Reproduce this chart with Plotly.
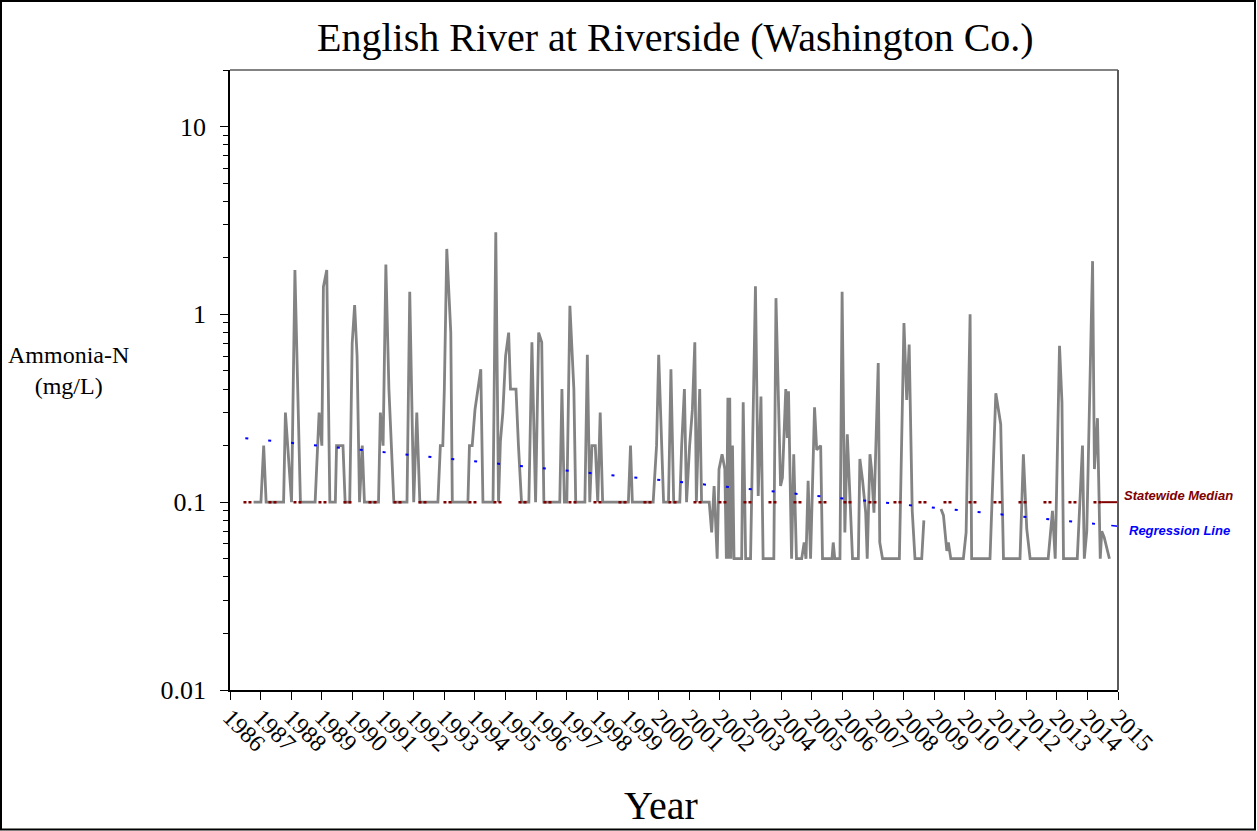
import math
import plotly.graph_objects as go

# Ammonia-N samples (decimal year, mg/L); None marks a break in the record
sample_year = [
    1986.77, 1987.01, 1987.10, 1987.18, 1987.75, 1987.81, 1988.01, 1988.12, 1988.23, 1988.30,
    1988.78, 1988.91, 1989.00, 1989.05, 1989.16, 1989.26, 1989.44, 1989.48, 1989.69, 1989.76,
    1989.91, 1989.99, 1990.07, 1990.15, 1990.23, 1990.32, 1990.39, 1990.85, 1990.91, 1991.00,
    1991.09, 1991.19, 1991.35, 1991.78, 1991.87, 1991.94, 1992.00, 1992.10, 1992.20, 1992.79,
    1992.87, 1992.95, 1993.00, 1993.08, 1993.21, 1993.26, 1993.77, 1993.82, 1993.91, 1994.00,
    1994.19, 1994.26, 1994.59, 1994.68, 1994.77, 1994.83, 1994.91, 1995.00, 1995.10, 1995.16,
    1995.34, 1995.42, 1995.52, 1995.76, 1995.86, 1995.98, 1996.08, 1996.18, 1996.25, 1996.77,
    1996.84, 1996.92, 1997.00, 1997.10, 1997.23, 1997.29, 1997.59, 1997.67, 1997.75, 1997.82,
    1997.93, 1998.01, 1998.09, 1998.17, 1999.01, 1999.08, 1999.14, 1999.82, 1999.93, 2000.00,
    2000.09, 2000.16, 2000.32, 2000.40, 2000.49, 2000.69, 2000.75, 2000.84, 2000.91, 2001.01,
    2001.10, 2001.18, 2001.23, 2001.28, 2001.34, 2001.40, 2001.65, 2001.73, 2001.81, 2001.91,
    2001.97, 2002.07, 2002.16, 2002.21, 2002.26, 2002.29, 2002.32, 2002.36, 2002.41, 2002.46,
    2002.71, 2002.76, 2002.84, 2003.00, 2003.16, 2003.25, 2003.34, 2003.41, 2003.76, 2003.83,
    2003.98, 2004.04, 2004.15, 2004.20, 2004.24, 2004.34, 2004.41, 2004.50, 2004.67, 2004.75,
    2004.81, 2004.88, 2004.96, 2005.09, 2005.16, 2005.29, 2005.35, 2005.66, 2005.70, 2005.75,
    2005.92, 2005.99, 2006.08, 2006.16, 2006.24, 2006.33, 2006.52, 2006.57, 2006.66, 2006.76,
    2006.81, 2006.90, 2006.95, 2007.03, 2007.17, 2007.22, 2007.31, 2007.86, 2008.01, 2008.10,
    2008.18, 2008.28, 2008.37, 2008.59, 2008.66, 2008.90, 2009.22, 2009.30, 2009.41, 2009.46,
    2009.54, 2009.95, 2010.04, 2010.17, 2010.22, 2010.82, 2011.01, 2011.17, 2011.26, 2011.80,
    2011.91, 2012.02, 2012.13, 2012.72, 2012.86, 2012.95, 2013.09, 2013.17, 2013.22, 2013.67,
    2013.84, 2013.90, 2013.98, 2014.17, 2014.23, 2014.33, 2014.42, 2014.47, 2014.55, 2014.72,
]
nh3_mg_l = [
    0.1, 0.1, 0.2, 0.1, 0.1, 0.3, 0.1, 1.72, 0.3, 0.1,
    0.1, 0.3, 0.2, 1.4, 1.72, 0.1, 0.1, 0.2, 0.2, 0.1,
    0.1, 0.7, 1.12, 0.6, 0.1, 0.2, 0.1, 0.1, 0.3, 0.2,
    1.84, 0.4, 0.1, 0.1, 1.32, 0.3, 0.1, 0.3, 0.1, 0.1,
    0.2, 0.2, 0.4, 2.23, 0.8, 0.1, 0.1, 0.2, 0.2, 0.31,
    0.51, 0.1, 0.1, 2.74, 0.1, 0.21, 0.3, 0.6, 0.8, 0.4,
    0.4, 0.2, 0.1, 0.1, 0.71, 0.1, 0.8, 0.71, 0.1, 0.1,
    0.4, 0.1, 0.1, 1.11, 0.4, 0.1, 0.1, 0.61, 0.1, 0.2,
    0.2, 0.1, 0.3, 0.1, 0.1, 0.2, 0.1, 0.1, 0.2, 0.61,
    0.25, 0.1, 0.1, 0.51, 0.1, 0.1, 0.2, 0.4, 0.1, 0.2,
    0.31, 0.71, 0.1, 0.2, 0.4, 0.1, 0.1, 0.069, 0.122, 0.05,
    0.15, 0.18, 0.15, 0.05, 0.36, 0.05, 0.36, 0.05, 0.2, 0.05,
    0.05, 0.34, 0.05, 0.05, 1.41, 0.108, 0.365, 0.05, 0.05, 1.22,
    0.122, 0.135, 0.4, 0.22, 0.39, 0.05, 0.18, 0.05, 0.05, 0.061,
    0.05, 0.13, 0.05, 0.32, 0.19, 0.2, 0.05, 0.05, 0.061, 0.05,
    0.05, 1.32, 0.069, 0.23, 0.12, 0.05, 0.05, 0.17, 0.13, 0.088,
    0.05, 0.18, 0.15, 0.088, 0.55, 0.061, 0.05, 0.05, 0.9, 0.35,
    0.69, 0.09, 0.05, 0.05, 0.08, None, 0.092, 0.085, 0.055, 0.061,
    0.05, 0.05, 0.069, 1.0, 0.05, 0.05, 0.38, 0.26, 0.05, 0.05,
    0.18, 0.072, 0.05, 0.05, 0.09, 0.05, 0.68, 0.34, 0.05, 0.05,
    0.2, 0.05, 0.07, 1.92, 0.15, 0.28, 0.05, 0.07, 0.065, 0.05,
]

# Reference lines
median_value = 0.1
median_years = [1986.44, 2015.0]
reg_years = [1986.5, 2015.0]
reg_values = [0.219, 0.0745]

# Axis ticks
year_ticks = list(range(1986, 2016))
y_major = [0.01, 0.1, 1, 10]
y_major_text = ["0.01", "0.1", "1", "10"]

Y_TOP = 20.0
SERIF = "Liberation Serif"
SANS = "Liberation Sans"

# Plot-area geometry (pixels)
W, H = 1257, 831
ML, MR, MT, MB = 230, 139, 70, 141
PW, PH = W - ML - MR, H - MT - MB


def px_x(px):
    return (px - ML) / PW


def px_y(py):
    return (H - MB - py) / PH


def reg_at(year):
    """Regression value at a given year (straight line in log space)."""
    l0, l1 = math.log10(reg_values[0]), math.log10(reg_values[1])
    f = (year - reg_years[0]) / (reg_years[1] - reg_years[0])
    return 10 ** (l0 + f * (l1 - l0))


fig = go.Figure()

fig.add_trace(go.Scatter(
    x=sample_year, y=nh3_mg_l, mode="lines",
    line=dict(color="#838383", width=2.8),
    connectgaps=False, hoverinfo="skip", showlegend=False,
))

# Statewide median: dashed run with a short solid tail into the label
median_split = 2014.45
fig.add_trace(go.Scatter(
    x=[median_years[0], median_split], y=[median_value, median_value], mode="lines",
    line=dict(color="#800000", width=2.4, dash="3px,2px,3px,17px"),
    hoverinfo="skip", showlegend=False,
))
fig.add_trace(go.Scatter(
    x=[median_split, median_years[1]], y=[median_value, median_value], mode="lines",
    line=dict(color="#800000", width=2),
    hoverinfo="skip", showlegend=False,
))

# Regression line: dotted, with a solid tail leading to its label
reg_split = 2014.78
fig.add_trace(go.Scatter(
    x=[reg_years[0], reg_split], y=[reg_values[0], reg_at(reg_split)], mode="lines",
    line=dict(color="#0000ff", width=2, dash="3px,20px"),
    hoverinfo="skip", showlegend=False,
))
fig.add_trace(go.Scatter(
    x=[reg_split, reg_years[1]], y=[reg_at(reg_split), reg_values[1]], mode="lines",
    line=dict(color="#0000ff", width=1.5),
    hoverinfo="skip", showlegend=False,
))

minor_vals = [k * 10 ** e for e in range(-2, 2) for k in range(2, 10) if k * 10 ** e <= Y_TOP]

fig.update_xaxes(
    range=[year_ticks[0], year_ticks[-1]],
    tickmode="array", tickvals=year_ticks, ticktext=[str(y) for y in year_ticks],
    tickangle=45, ticks="outside", ticklen=8, tickwidth=1.3, tickcolor="black",
    ticklabelstandoff=-6,
    showline=True, linecolor="black", linewidth=1.5,
    showgrid=False, zeroline=False,
    tickfont=dict(family=SERIF, size=24, color="black"),
)
fig.update_yaxes(
    type="log", range=[math.log10(y_major[0]), math.log10(Y_TOP)],
    tickmode="array", tickvals=y_major, ticktext=y_major_text,
    ticks="outside", ticklen=8, tickwidth=1.3, tickcolor="black",
    ticklabelstandoff=9,
    minor=dict(tickmode="array", tickvals=minor_vals, ticks="outside",
               ticklen=5, tickwidth=1.2, tickcolor="black", showgrid=False),
    showline=True, linecolor="black", linewidth=1.5,
    showgrid=False, zeroline=False,
    tickfont=dict(family=SERIF, size=26, color="black"),
)

shapes = [
    # top and right edges of the plot frame
    dict(type="line", xref="paper", yref="paper", x0=0, x1=1, y0=1, y1=1,
         line=dict(color="#5a5a5a", width=1.5)),
    dict(type="line", xref="paper", yref="paper", x0=1, x1=1, y0=0, y1=1,
         line=dict(color="#5a5a5a", width=2)),
    # outer border of the figure
    dict(type="rect", xref="paper", yref="paper",
         x0=px_x(1), x1=px_x(1255), y0=px_y(829.5), y1=px_y(1),
         line=dict(color="black", width=2), fillcolor="rgba(0,0,0,0)"),
]

annotations = [
    dict(text="English River at Riverside (Washington Co.)", xref="paper", yref="paper",
         x=px_x(675), y=px_y(37), xanchor="center", yanchor="middle", showarrow=False,
         font=dict(family=SERIF, size=40, color="black")),
    dict(text="Year", xref="paper", yref="paper",
         x=px_x(661), y=px_y(805), xanchor="center", yanchor="middle", showarrow=False,
         font=dict(family=SERIF, size=40, color="black")),
    dict(text="Ammonia-N<br>(mg/L)", xref="paper", yref="paper",
         x=px_x(68), y=px_y(370), xanchor="center", yanchor="middle", showarrow=False,
         align="center", font=dict(family=SERIF, size=24, color="black")),
    dict(text="<b><i>Statewide Median</i></b>", xref="paper", yref="paper",
         x=px_x(1122), y=px_y(496), xanchor="left", yanchor="middle", showarrow=False,
         font=dict(family=SANS, size=13, color="#800000")),
    dict(text="<b><i>Regression Line</i></b>", xref="paper", yref="paper",
         x=px_x(1127), y=px_y(530), xanchor="left", yanchor="middle", showarrow=False,
         font=dict(family=SANS, size=13, color="#0000ff")),
]

fig.update_layout(
    width=W, height=H,
    margin=dict(l=ML, r=MR, t=MT, b=MB, autoexpand=False),
    paper_bgcolor="white", plot_bgcolor="white",
    font=dict(family=SERIF, color="black"),
    shapes=shapes, annotations=annotations,
    showlegend=False,
)

fig.write_html("out.html")
